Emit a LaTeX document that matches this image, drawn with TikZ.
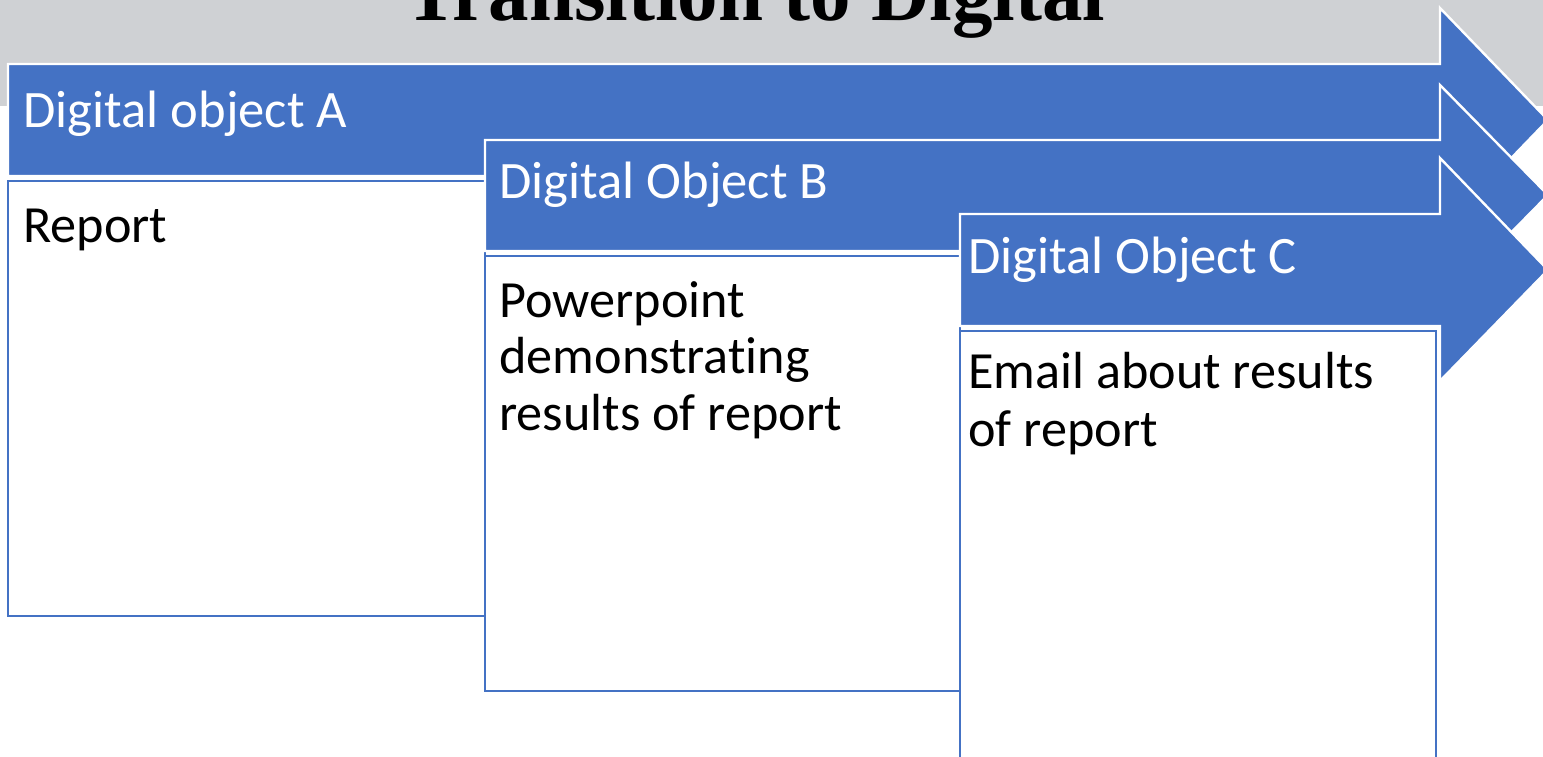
\documentclass[tikz,border=0pt]{standalone}
\usepackage{fontspec}
\setmainfont{Carlito}[Ligatures={NoCommon,NoContextual}]
\newfontfamily\titlefont{Liberation Serif}
\definecolor{ofblue}{HTML}{4472C4}
\definecolor{bandgray}{HTML}{CFD1D4}
\begin{document}
\begin{tikzpicture}[x=0.5pt,y=-0.5pt,
  arrowshape/.style={fill=ofblue,draw=white,line width=1.2pt,line join=miter},
  itembox/.style={fill=white,draw=ofblue,line width=1.1pt},
  headtext/.style={anchor=base west,inner sep=0pt,text=white,font=\fontsize{26.3}{28}\selectfont},
  bodytext/.style={anchor=base west,inner sep=0pt,text=black,font=\fontsize{26.1}{28}\selectfont},
]
\useasboundingbox (0,0) rectangle (1543,756);
\clip (0,0) rectangle (1543,756);
\fill[bandgray] (0,0) rectangle (1543,106);
\node[anchor=base,inner sep=0pt,font=\titlefont\bfseries\fontsize{40.5}{40.5}\selectfont] (title) at (755,20) {Transition to Digital};

% Arrow A and its box
\draw[arrowshape] (8,64) -- (1440,64) -- (1440,8) -- (1548,120) -- (1440,232) -- (1440,176) -- (8,176) -- cycle;
\draw[itembox] (8,181) rectangle (485,616);
\node[headtext] (hA) at (23,127) {Digital object A};
\node[bodytext] (bA) at (23,242) {Report};

% Arrow B and its box
\draw[arrowshape] (485,140) -- (1440,140) -- (1440,85) -- (1548,195) -- (1440,305) -- (1440,251) -- (485,251) -- cycle;
\draw[itembox] (485,256) rectangle (960,691);
\node[headtext] (hB) at (499,198) {Digital Object B};
\node[bodytext] (bB1) at (499,317) {Powerpoint};
\node[bodytext] (bB2) at (499,373) {demonstrating};
\node[bodytext] (bB3) at (499,430) {results of report};

% Arrow C and its box
\draw[arrowshape] (960,214) -- (1440,214) -- (1440,158) -- (1548,270) -- (1440,381) -- (1440,326) -- (960,326) -- cycle;
\draw[itembox] (960,331) rectangle (1436,790);
\node[headtext] (hC) at (968,273) {Digital Object C};
\node[bodytext] (bC1) at (968,388) {Email about results};
\node[bodytext] (bC2) at (968,446) {of report};
\end{tikzpicture}
\end{document}
